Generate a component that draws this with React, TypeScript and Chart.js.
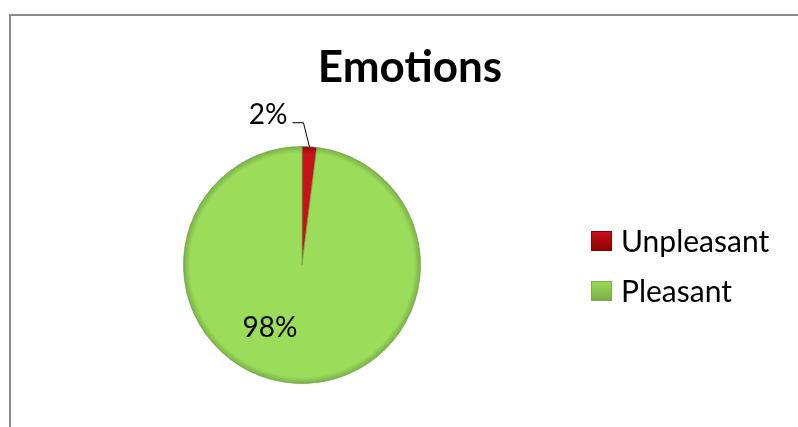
import React, { useEffect, useRef } from "react";
import { Chart, registerables } from "chart.js";

Chart.register(...registerables);

const categories = ["Unpleasant", "Pleasant"];
const values = [2, 98];
const percentLabels = ["2%", "98%"];
const titleText = "Emotions";

const solidColors = ["#C8121A", "#9BDC5A"];
const edgeColors = ["#8E0000", "#78AE45"];

const labelPlugin = {
  id: "pieLabels",
  afterDatasetsDraw(chart: any) {
    const meta = chart.getDatasetMeta(0);
    const ctx = chart.ctx;
    const area = chart.chartArea;
    ctx.save();
    ctx.fillStyle = "#000";
    ctx.strokeStyle = "#000";
    ctx.lineWidth = 1;

    // data labels
    ctx.font = "28px Lato";
    meta.data.forEach((arc: any, i: number) => {
      const p = arc.getProps(["x", "y", "startAngle", "endAngle", "outerRadius"], true);
      const mid = (p.startAngle + p.endAngle) / 2;
      const r = p.outerRadius;
      if (i === 0) {
        const ex = p.x + Math.cos(mid) * r;
        const ey = p.y + Math.sin(mid) * r;
        const bx = ex - 6;
        const by = ey - 24;
        const hx = bx - 11;
        ctx.beginPath();
        ctx.moveTo(ex, ey);
        ctx.lineTo(bx, by);
        ctx.lineTo(hx, by);
        ctx.stroke();
        ctx.textAlign = "right";
        ctx.textBaseline = "middle";
        ctx.fillText(percentLabels[i], hx - 5, by - 8);
      } else {
        const a = mid + 0.41;
        const lx = p.x + Math.cos(a) * r * 0.595;
        const ly = p.y + Math.sin(a) * r * 0.595;
        ctx.textAlign = "center";
        ctx.textBaseline = "middle";
        ctx.fillText(percentLabels[i], lx, ly);
      }
    });

    // title
    ctx.font = "bold 44px Lato";
    ctx.textAlign = "center";
    ctx.textBaseline = "alphabetic";
    ctx.fillText(titleText, chart.width / 2 + 11, area.top - 64);

    // legend
    const cy = (area.top + area.bottom) / 2;
    const boxX = area.right + 21;
    ctx.font = "30px Lato";
    ctx.textAlign = "left";
    ctx.textBaseline = "middle";
    categories.forEach((c, i) => {
      const rowY = cy - 24 + i * 50;
      const g = ctx.createLinearGradient(0, rowY - 10, 0, rowY + 10);
      g.addColorStop(0, solidColors[i]);
      g.addColorStop(1, edgeColors[i]);
      ctx.fillStyle = g;
      ctx.fillRect(boxX, rowY - 10, 21, 20);
      ctx.strokeStyle = edgeColors[i];
      ctx.lineWidth = 1;
      ctx.strokeRect(boxX + 0.5, rowY - 9.5, 20, 19);
      ctx.fillStyle = "#000";
      ctx.fillText(c, boxX + 30, rowY + 1);
    });
    ctx.restore();
  },
};

export default function App() {
  const ref = useRef<HTMLCanvasElement>(null);
  useEffect(() => {
    if (!ref.current) return;
    const chart = new Chart(ref.current, {
      type: "pie",
      data: {
        labels: categories,
        datasets: [
          {
            data: values,
            backgroundColor: (c: any) => {
              const area = c.chart.chartArea;
              const i = c.dataIndex;
              if (!area) return solidColors[i];
              const cx = (area.left + area.right) / 2;
              const cy = (area.top + area.bottom) / 2;
              const rr = Math.min(area.width, area.height) / 2;
              const g = c.chart.ctx.createRadialGradient(cx, cy, 0, cx, cy, rr);
              g.addColorStop(0, solidColors[i]);
              g.addColorStop(0.94, solidColors[i]);
              g.addColorStop(1, edgeColors[i]);
              return g;
            },
            borderColor: "rgba(110,160,70,0.7)",
            borderWidth: 1,
          },
        ],
      },
      options: {
        responsive: false,
        animation: false,
        layout: { padding: { left: 34, right: 228, top: 146, bottom: 43 } },
        plugins: {
          tooltip: { enabled: false },
          title: { display: false },
          legend: { display: false },
        },
      },
      plugins: [labelPlugin],
    } as any);
    return () => chart.destroy();
  }, []);
  return (
    <div style={{ position: "absolute", left: 0, top: 0, width: 798, height: 427, overflow: "hidden", background: "#fff" }}>
      <div
        style={{
          position: "absolute",
          left: 9,
          top: 14,
          width: 820,
          height: 440,
          borderTop: "2px solid #8a8a8a",
          borderLeft: "2px solid #8a8a8a",
        }}
      />
      <canvas ref={ref} width={798} height={427} style={{ position: "absolute", left: 0, top: 0, display: "block" }} />
    </div>
  );
}
